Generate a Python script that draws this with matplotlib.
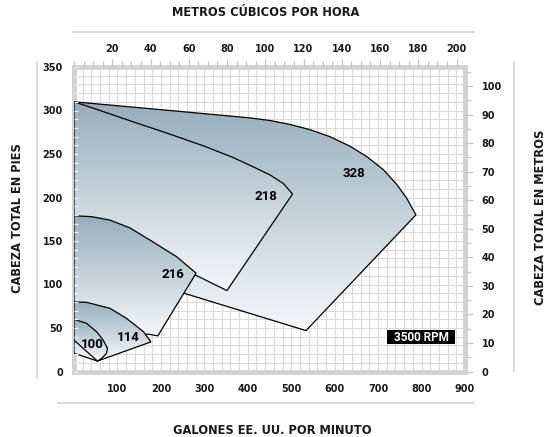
import matplotlib
matplotlib.use('Agg')
import matplotlib.pyplot as plt
import numpy as np
from matplotlib.patches import Polygon, Rectangle
from matplotlib.colors import LinearSegmentedColormap
from matplotlib.lines import Line2D
from matplotlib.ticker import MultipleLocator, FixedLocator

# ── unit conversions for the twin scales ─────────────────────────────────────
GPM_PER_M3H = 4.4029
FT_PER_M = 3.2808

# ── impeller envelopes (gpm, ft) ─────────────────────────────────────────────
# the last corners of each outline sit under the next (smaller) region
imp328_gpm = [0, 221, 405, 451, 497, 543, 589, 635, 674, 712, 743, 766, 787,
              534, 253, 200, 0]
imp328_ft = [310, 300, 291.5, 288.5, 284, 278, 270, 259, 247, 232, 215, 199, 180,
             47, 90, 100, 100]

imp218_gpm = [0, 60, 136, 214, 300, 366, 405, 451, 482, 503, 352, 279, 250, 0]
imp218_ft = [310, 300, 287, 274, 259, 246, 237, 226, 216, 204, 93, 111, 110, 150]

imp216_gpm = [0, 40, 83, 129, 175, 236, 281, 193, 170, 140, 0]
imp216_ft = [179, 178, 174, 165, 151, 132, 113, 41, 43, 40, 40]

imp114_gpm = [0, 29, 83, 121, 160, 177, 54, 0]
imp114_ft = [80, 79.5, 72.6, 61, 45.7, 34, 12, 21]

imp100_gpm = [0, 29, 52, 67, 77, 75, 64, 54, 0]
imp100_ft = [60, 55.4, 45.7, 36.2, 26.7, 21, 15.2, 12, 36]

region_names = ['328', '218', '216', '114', '100']
label_gpm = [645, 442, 228, 124, 43]
label_ft = [228, 201, 112, 39, 31]

left_ticks = [0, 50, 100, 150, 200, 250, 300, 350]
bottom_ticks = [100, 200, 300, 400, 500, 600, 700, 800, 900]
top_ticks = [20, 40, 60, 80, 100, 120, 140, 160, 180, 200]
right_ticks = [0, 10, 20, 30, 40, 50, 60, 70, 80, 90, 100]

# ── style ────────────────────────────────────────────────────────────────────
W, H = 551, 437
TXT = '#1a1a1a'
FRAME = '#d3d3d3'
GRIDC = '#dadada'
TICKC = '#c4c4c4'
CMAP = LinearSegmentedColormap.from_list('steel', ['#f6f8fa', '#c6d3db', '#97aebd'])
NARROW = ['DejaVu Sans Condensed', 'Roboto']

plt.rcParams['font.family'] = ['DejaVu Sans']
plt.rcParams['font.weight'] = 'bold'


def px(x, y):
    return x / W, 1 - y / H


fig = plt.figure(figsize=(W / 100, H / 100), dpi=100, facecolor='white')
ax = fig.add_axes([74 / W, (H - 371.5) / H, 391 / W, 304.5 / H])
ax.set_facecolor('white')

# grid under everything
ax.vlines(np.arange(20, 900, 20), 0, 350, color=GRIDC, lw=0.8, zorder=0.5)
ax.hlines(np.arange(10, 350, 10), 0, 900, color=GRIDC, lw=0.8, zorder=0.5)


def region(xs, ys, z):
    poly = Polygon(np.column_stack([xs, ys]), closed=True, fc='none',
                   ec='black', lw=0.9, joinstyle='miter', zorder=z + 0.05)
    ax.add_patch(poly)
    grad = np.linspace(1, 0, 256).reshape(-1, 1)
    im = ax.imshow(grad, cmap=CMAP, extent=[min(xs), max(xs), min(ys), max(ys)],
                   origin='upper', aspect='auto', zorder=z, interpolation='bilinear')
    im.set_clip_path(poly)


shapes = [(imp328_gpm, imp328_ft), (imp218_gpm, imp218_ft), (imp216_gpm, imp216_ft),
          (imp114_gpm, imp114_ft), (imp100_gpm, imp100_ft)]
for i, (xs, ys) in enumerate(shapes):
    region(xs, ys, 1.0 + 0.2 * i)

for name, gx, hy in zip(region_names, label_gpm, label_ft):
    ax.text(gx, hy, name, family=NARROW, fontsize=9.5, weight='bold', color='black',
            ha='center', va='center', zorder=3)

# 3500 RPM tag
ax.add_patch(Rectangle((721, 31.3), 157, 16.4, fc='black', ec='none', zorder=3))
ax.text(799.5, 39.5, '3500 RPM', family=NARROW, fontsize=8.5, weight='bold',
        color='white', ha='center', va='center', zorder=3.1)

ax.set_xlim(0, 900)
ax.set_ylim(0, 350)
ax.set_axisbelow(False)
for sp in ax.spines.values():
    sp.set_color(FRAME)
    sp.set_linewidth(3.6)
    sp.set_zorder(0.8)

ax.xaxis.set_major_locator(FixedLocator(bottom_ticks))
ax.yaxis.set_major_locator(FixedLocator(left_ticks))
ax.yaxis.set_minor_locator(MultipleLocator(10))
ax.tick_params(axis='x', which='both', length=0, pad=9, labelsize=7, labelcolor=TXT)
ax.tick_params(axis='y', which='both', direction='in', length=3, width=0.9,
               color='#eef0f2', pad=8, labelsize=7, labelcolor=TXT)

# right scale: metres
ax2 = ax.twinx()
ax2.set_ylim(0, 350 / FT_PER_M)
ax2.yaxis.set_major_locator(FixedLocator(right_ticks))
ax2.yaxis.set_minor_locator(MultipleLocator(5))
ax2.tick_params(axis='y', which='major', direction='out', length=6, width=0.9,
                color=TICKC, pad=6, labelsize=7, labelcolor=TXT)
ax2.tick_params(axis='y', which='minor', direction='out', length=4.4, width=0.9,
                color=TICKC)
for sp in ax2.spines.values():
    sp.set_visible(False)

# top scale: cubic metres per hour
ax3 = ax.twiny()
ax3.set_xlim(0, 900 / GPM_PER_M3H)
ax3.xaxis.set_major_locator(FixedLocator(top_ticks))
ax3.xaxis.set_minor_locator(MultipleLocator(5))
ax3.tick_params(axis='x', which='major', direction='out', length=6, width=0.9,
                color=TICKC, pad=3.6, labelsize=7, labelcolor=TXT)
ax3.tick_params(axis='x', which='minor', direction='out', length=4.2, width=0.9,
                color=TICKC)
for sp in ax3.spines.values():
    sp.set_visible(False)

# axis titles and the grey rules next to them
fig.text(*px(266, 12.5), 'METROS CÚBICOS POR HORA', fontsize=8.3, color=TXT,
         ha='center', va='center')
fig.text(*px(272.5, 430.5), 'GALONES EE. UU. POR MINUTO', fontsize=8.3, color=TXT,
         ha='center', va='center')
fig.text(*px(18, 218), 'CABEZA TOTAL EN PIES', fontsize=8.3, color=TXT,
         ha='center', va='center', rotation=90)
fig.text(*px(540, 217), 'CABEZA TOTAL EN METROS', fontsize=8.3, color=TXT,
         ha='center', va='center', rotation=90)

rules = [((73, 32), (474, 32)), ((58, 403), (474, 403)),
         ((37, 62), (37, 378)), ((514, 62), (514, 371))]
for (xa, ya), (xb, yb) in rules:
    (fa, ga), (fb, gb) = px(xa, ya), px(xb, yb)
    fig.add_artist(Line2D([fa, fb], [ga, gb], color='#d8d8d8', lw=1.3,
                          transform=fig.transFigure))

fig.savefig('out.png', dpi=100, facecolor='white')
